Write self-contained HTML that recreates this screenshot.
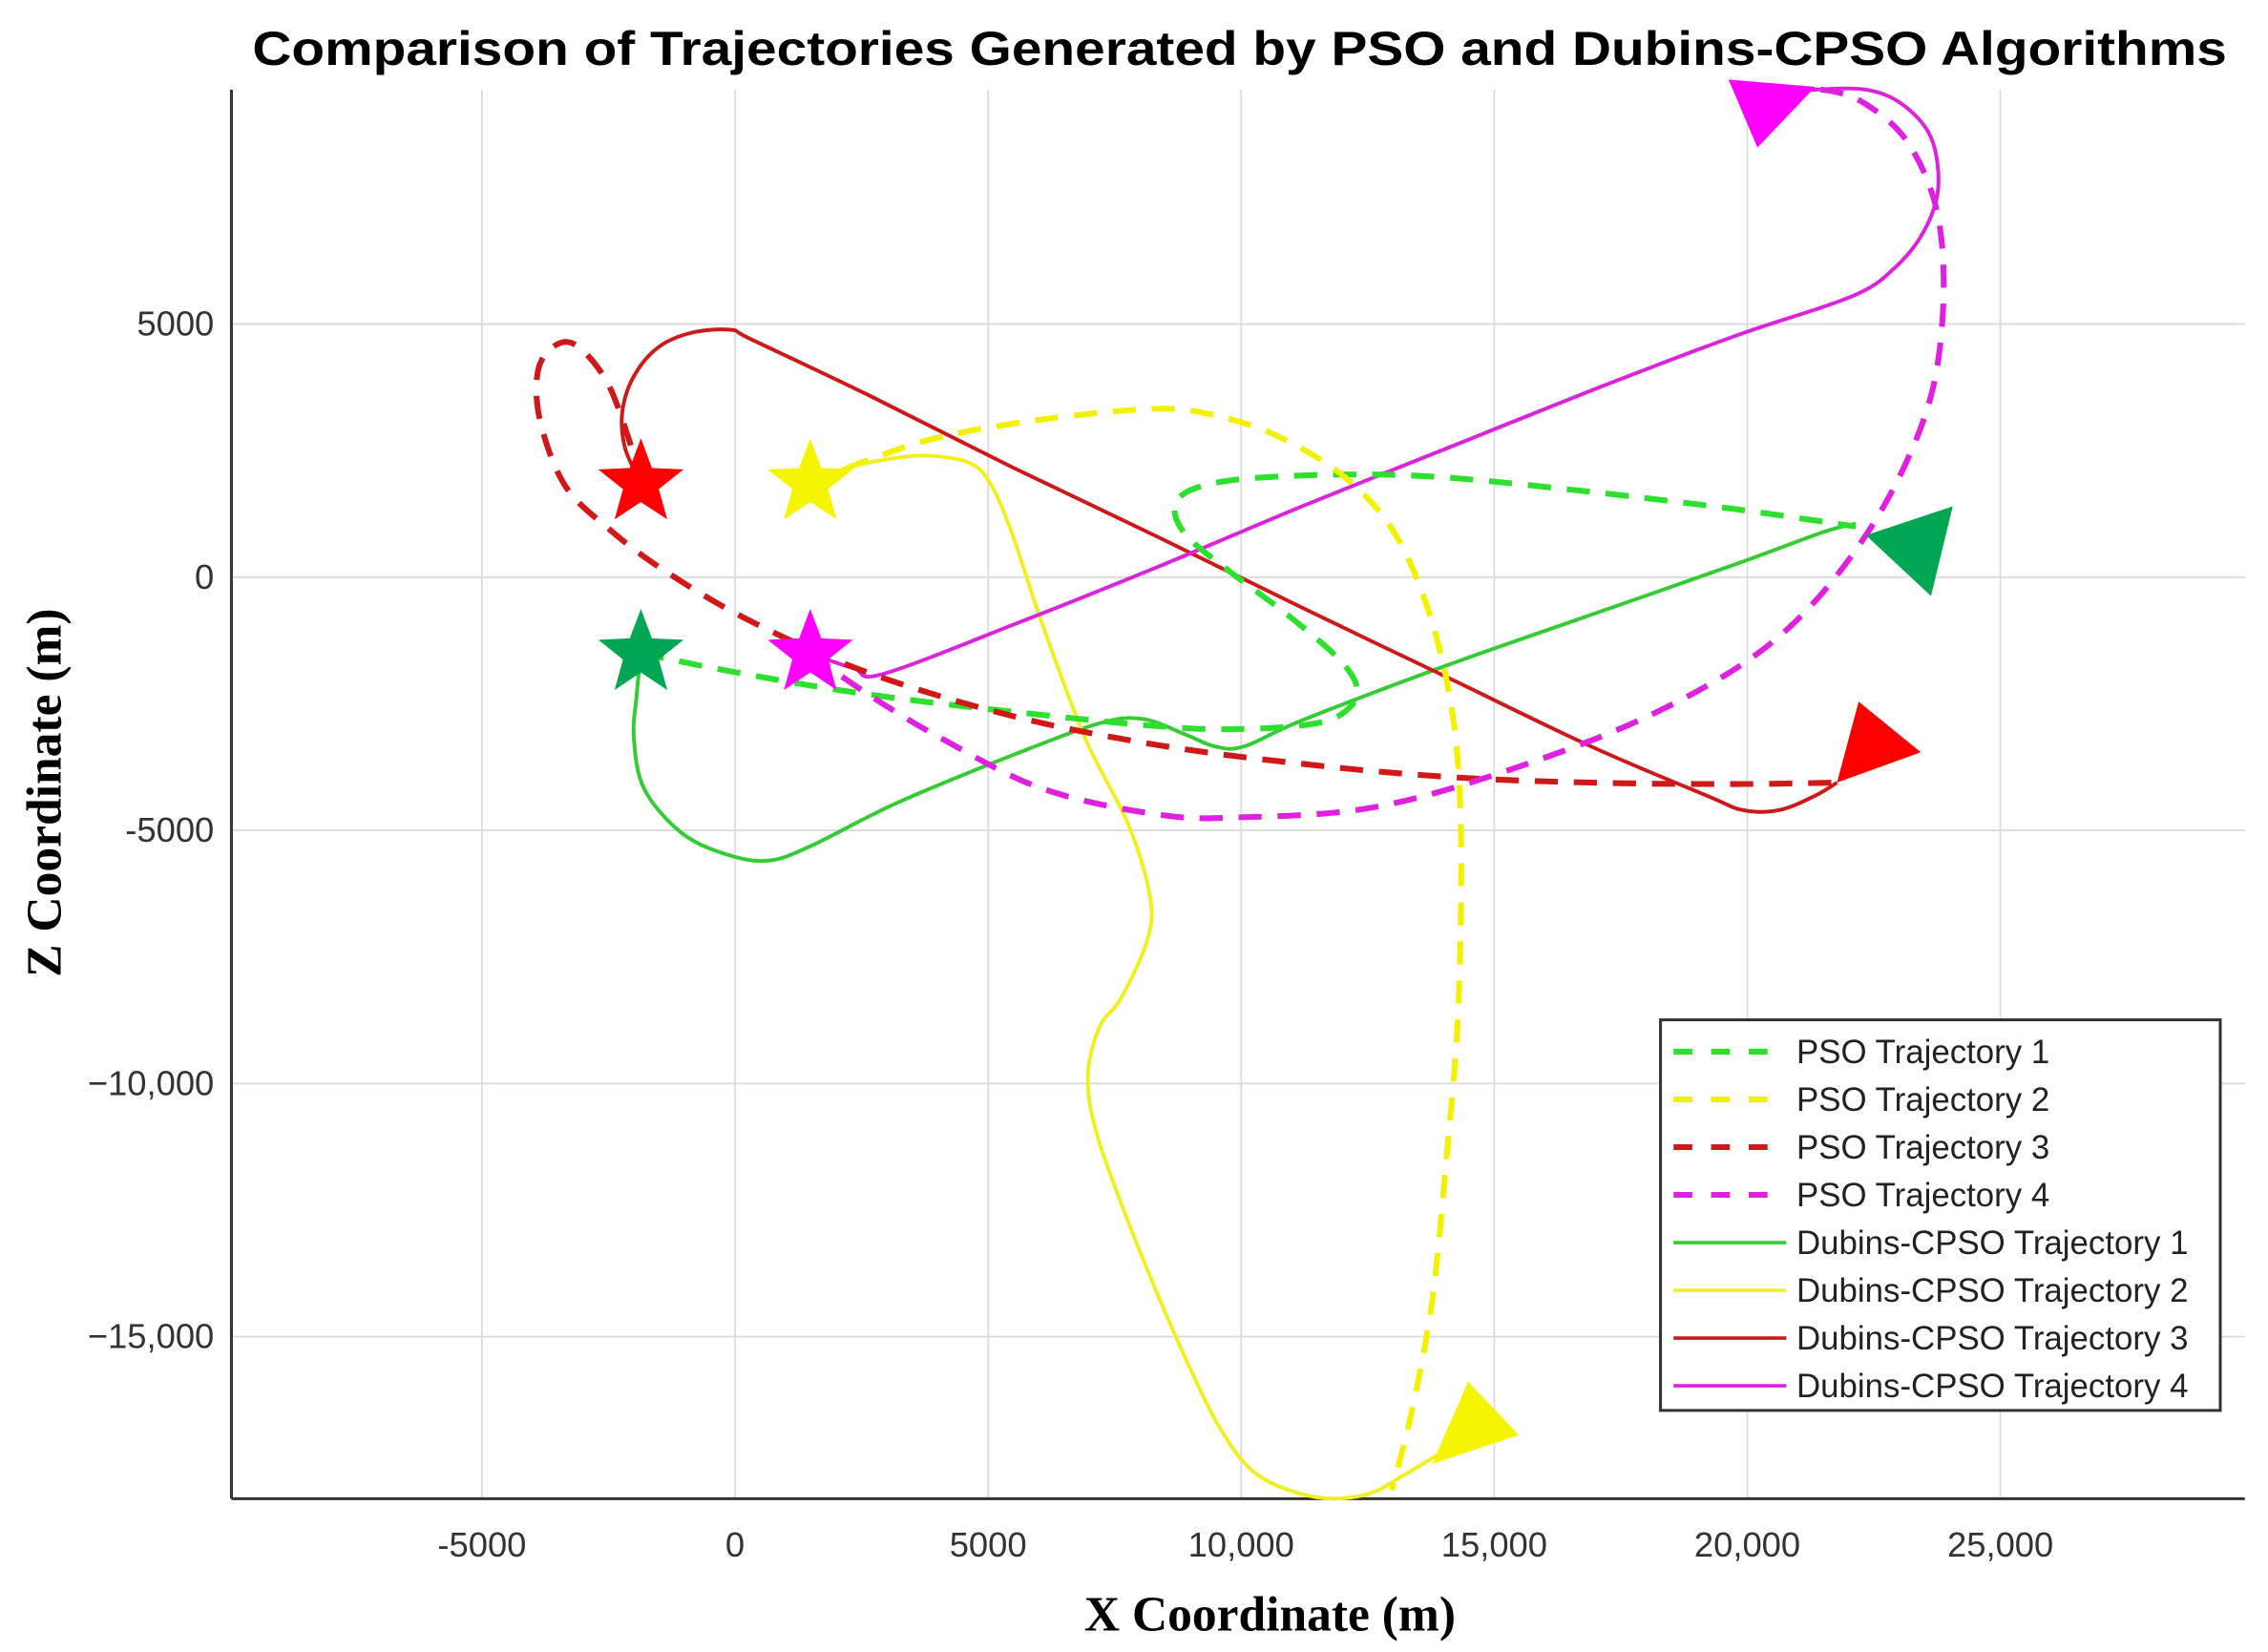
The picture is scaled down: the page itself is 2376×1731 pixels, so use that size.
<!DOCTYPE html>
<html><head><meta charset="utf-8"><style>
html,body{margin:0;padding:0;background:#fff}
svg{display:block}
</style></head><body>
<svg id="chart" width="2376" height="1731" viewBox="0 0 1568 1142" preserveAspectRatio="none" xmlns="http://www.w3.org/2000/svg">
<rect width="1568" height="1142" fill="#fff"/>
<text x="857" y="45" text-anchor="middle" font-family="Liberation Sans, sans-serif" font-weight="bold" font-size="33" textLength="1365" lengthAdjust="spacingAndGlyphs">Comparison of Trajectories Generated by PSO and Dubins-CPSO Algorithms</text>
<g id="grid"></g>
<g id="axes"></g>
<g id="series"></g>
<text x="878" y="1127" text-anchor="middle" font-family="Liberation Serif, serif" font-weight="bold" font-size="34">X Coordinate (m)</text>
<text transform="translate(42,548) rotate(-90)" text-anchor="middle" font-family="Liberation Serif, serif" font-weight="bold" font-size="34">Z Coordinate (m)</text>
<g id="legend"></g>
</svg>
<script>
const xTicks=[-5000,0,5000,10000,15000,20000,25000];
const xTickLabels=["-5000","0","5000","10,000","15,000","20,000","25,000"];
const yTicks=[5000,0,-5000,-10000,-15000];
const yTickLabels=["5000","0","-5000","\u221210,000","\u221215,000"];
const names=["PSO Trajectory 1","PSO Trajectory 2","PSO Trajectory 3","PSO Trajectory 4","Dubins-CPSO Trajectory 1","Dubins-CPSO Trajectory 2","Dubins-CPSO Trajectory 3","Dubins-CPSO Trajectory 4"];
const pso1X=[-1860,340,2629,5486,8343,9971,11486,12114,12286,11914,10914,9771,8914,8686,9057,10057,12057,14057,16914,19771,22143];
const pso1Z=[-1510,-1940,-2314,-2657,-2943,-3000,-2886,-2600,-2171,-1600,-743,114,829,1400,1743,1943,2029,1971,1686,1343,1000];
const pso2X=[1486,2629,4057,6057,8057,9200,10629,12057,13057,13771,14200,14343,14286,14057,13771,13343,12971];
const pso2Z=[1857,2314,2771,3114,3314,3257,2829,1971,829,-886,-2886,-5171,-8600,-11457,-14314,-16600,-18029];
const pso3X=[-1860,-2086,-2514,-3086,-3514,-3886,-3857,-3371,-2514,-1371,343,2629,5486,8343,11200,14057,16914,19771,21771];
const pso3Z=[1857,2686,3829,4543,4600,4114,3114,1829,971,114,-886,-1886,-2743,-3314,-3686,-3943,-4057,-4086,-4057];
const pso4X=[1486,2629,4057,6057,8343,9971,12629,15486,18343,20629,22343,23486,23857,23771,23200,22343,21486,20629];
const pso4Z=[-1510,-2314,-3171,-4171,-4686,-4743,-4543,-3743,-2600,-1171,829,3114,5114,7114,8543,9343,9629,9543];
const dub1X=[-1860,-1943,-2000,-1800,-1086,-229,629,1486,3200,5486,7200,8057,8914,9486,10057,11200,14057,16914,19771,21486,22143];
const dub1Z=[-1510,-2314,-3171,-4171,-5029,-5457,-5600,-5314,-4457,-3514,-2886,-2800,-3114,-3343,-3343,-2829,-1743,-743,257,886,1057];
const dub2X=[1486,2057,2914,3771,4629,5057,5486,6057,6914,7771,8200,8143,7629,7200,6971,7200,8057,8914,9629,10343,11486,12486,13200,13914];
const dub2Z=[1857,2114,2314,2400,2257,1829,829,-886,-3171,-4886,-6314,-7171,-8314,-8886,-9886,-11171,-13457,-15457,-16886,-17743,-18171,-18114,-17743,-17314];
const dub3X=[-1860,-2171,-2229,-2000,-1514,-857,-86,343,2629,5486,8343,11200,14057,16914,19200,19914,20629,21343,21771];
const dub3Z=[1857,2543,3257,3971,4543,4829,4886,4686,3600,2171,800,-600,-1971,-3343,-4314,-4600,-4600,-4314,-4057];
const dub4X=[1486,2343,2914,5486,8343,11200,14057,16914,19771,22057,22914,23486,23771,23629,23057,22343,21343,20629];
const dub4Z=[-1510,-1800,-1914,-943,200,1400,2543,3686,4771,5543,6114,6829,7686,8686,9343,9629,9629,9543];
const startX=[-1860,1486,-1860,1486];
const startZ=[-1510,1857,1857,-1510];

const NS="http://www.w3.org/2000/svg";
const L=160,R=1552,T=62,B=1036;
const xMin=-9950,xMax=29830,zMin=-18200,zMax=9630;
function sx(v){return L+(v-xMin)/(xMax-xMin)*(R-L);}
function sy(v){return B-(v-zMin)/(zMax-zMin)*(B-T);}
function mk(tag,attrs,parent){const e=document.createElementNS(NS,tag);for(const k in attrs)e.setAttribute(k,attrs[k]);parent.appendChild(e);return e;}
const grid=document.getElementById('grid'),axes=document.getElementById('axes'),series=document.getElementById('series'),legend=document.getElementById('legend');
xTicks.forEach((t,i)=>{
  const g=mk('line',{x1:sx(t),x2:sx(t),y1:T,y2:B,stroke:'#dcdcdc','stroke-width':1.2},grid);
  
  
  const tl=mk('text',{x:sx(t),y:B+40,'text-anchor':'middle','font-family':'Liberation Sans, sans-serif','font-size':24,fill:'#333'},axes);
  
  
  tl.textContent=xTickLabels[i];
});
yTicks.forEach((t,i)=>{
  const g=mk('line',{x1:L,x2:R,y1:sy(t),y2:sy(t),stroke:'#dcdcdc','stroke-width':1.2},grid);
  
  
  const tl=mk('text',{x:L-12,y:sy(t)+8,'text-anchor':'end','font-family':'Liberation Sans, sans-serif','font-size':24,fill:'#333'},axes);
  
  
  tl.textContent=yTickLabels[i];
});
const ax1=mk('line',{x1:L,x2:L,y1:T,y2:B,stroke:'#333','stroke-width':2},axes);


const ax2=mk('line',{x1:L,x2:R,y1:B,y2:B,stroke:'#333','stroke-width':2},axes);



const psoCols=['#2ee02e','#f2f200','#d01818','#e020e0'];
const dubCols=['#33cc33','#f0f020','#cc1a1a','#dd22dd'];
const markCols=['#00a651','#f5f500','#ff0000','#ff00ff'];
const psoData=[[pso1X,pso1Z],[pso2X,pso2Z],[pso3X,pso3Z],[pso4X,pso4Z]];
const dubData=[[dub1X,dub1Z],[dub2X,dub2Z],[dub3X,dub3Z],[dub4X,dub4Z]];
function smooth(d){
  const p=d[0].map((x,i)=>[sx(x),sy(d[1][i])]);
  let s='M'+p[0][0].toFixed(1)+','+p[0][1].toFixed(1);
  for(let i=0;i<p.length-1;i++){
    const p0=p[Math.max(0,i-1)],p1=p[i],p2=p[i+1],p3=p[Math.min(p.length-1,i+2)];
    const c1=[p1[0]+(p2[0]-p0[0])/6,p1[1]+(p2[1]-p0[1])/6];
    const c2=[p2[0]-(p3[0]-p1[0])/6,p2[1]-(p3[1]-p1[1])/6];
    s+=' C'+c1[0].toFixed(1)+','+c1[1].toFixed(1)+' '+c2[0].toFixed(1)+','+c2[1].toFixed(1)+' '+p2[0].toFixed(1)+','+p2[1].toFixed(1);
  }
  return s;
}
dubData.forEach((d,i)=>{
  const p=mk('path',{d:smooth(d),fill:'none',stroke:dubCols[i],'stroke-width':2.6,'stroke-linejoin':'round'},series);
  
  
});
psoData.forEach((d,i)=>{
  const p=mk('path',{d:smooth(d),fill:'none',stroke:psoCols[i],'stroke-width':4,'stroke-dasharray':'16 11','stroke-linejoin':'round'},series);
  
  
});
// end arrows (offsets in px relative to trajectory end)
const arrowOff=[[[7,6],[67,-14],[52,48]],[[53,-75],[88,-38],[28,-18]],[[0,0],[58,-21],[15,-56]],[[-35,-10],[25,-5],[-15,37]]];
psoData.forEach((d,i)=>{
  const n=d[0].length-1,ex=sx(d[0][n]),ey=sy(d[1][n]);
  const a=mk('polygon',{points:arrowOff[i].map(o=>(ex+o[0])+','+(ey+o[1])).join(' '),fill:markCols[i]},series);
  
  
});
function star(cx,cy,r){let s=[];for(let k=0;k<10;k++){const rr=k%2?r*0.42:r;const a=-Math.PI/2+k*Math.PI/5;s.push((cx+rr*Math.cos(a)).toFixed(1)+','+(cy+rr*Math.sin(a)).toFixed(1));}return s.join(' ');}
startX.forEach((x,i)=>{
  const s=mk('polygon',{points:star(sx(x),sy(startZ[i]),31),fill:markCols[i]},series);
  
  
});
// legend
const lb=mk('rect',{x:1148,y:705,width:387,height:270,fill:'#fff',stroke:'#333','stroke-width':2},legend);


names.forEach((nm,i)=>{
  const y=727+i*33;
  const isP=i<4;
  const ln=mk('line',{x1:1157,x2:1235,y1:y,y2:y,stroke:isP?psoCols[i]:dubCols[i-4],'stroke-width':isP?4:2.4},legend);
  if(isP)ln.setAttribute('stroke-dasharray','13 13');
  
  
  const t=mk('text',{x:1242,y:y+8,'font-family':'Liberation Sans, sans-serif','font-size':23,fill:'#222'},legend);
  
  
  t.textContent=nm;
});
</script>
</body></html>
